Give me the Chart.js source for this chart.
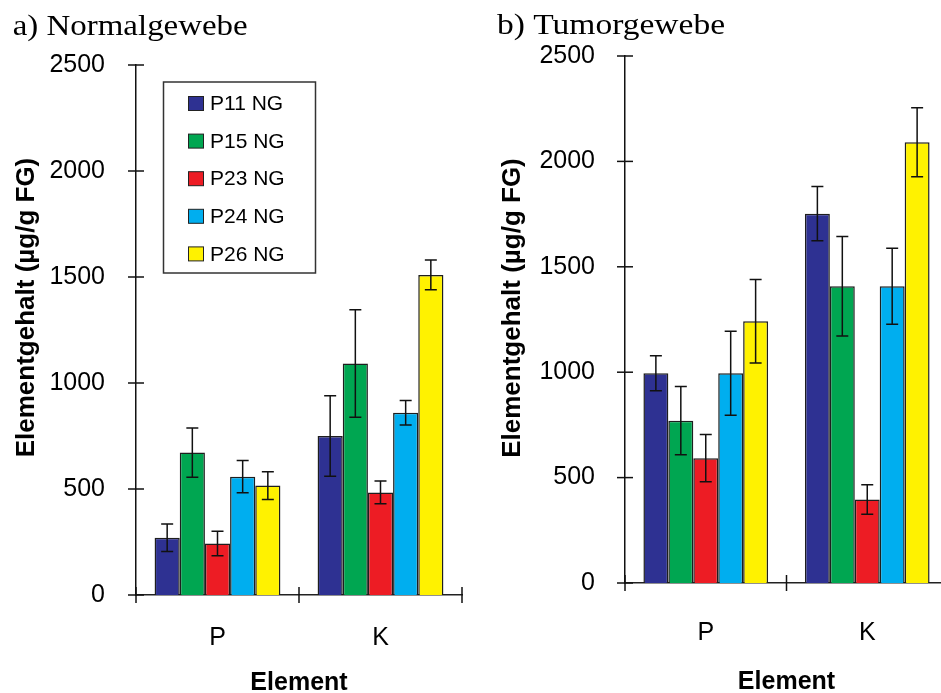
<!DOCTYPE html>
<html>
<head>
<meta charset="utf-8">
<script src="https://cdn.jsdelivr.net/npm/chart.js@4.4.1/dist/chart.umd.min.js"></script>
<style>
  html, body { margin: 0; padding: 0; background: #fff; width: 941px; height: 693px; overflow: hidden; }
  #wrapA { position: absolute; left: 0; top: 0; width: 470px; height: 693px; }
  #wrapB { position: absolute; left: 470px; top: 0; width: 490px; height: 693px; }
</style>
</head>
<body>
<div id="wrapA"><canvas id="chartA" width="470" height="693"></canvas></div>
<div id="wrapB"><canvas id="chartB" width="490" height="693"></canvas></div>
<script>
// ---- Data ----
const categories = ['P', 'K'];
const seriesNames = ['P11 NG', 'P15 NG', 'P23 NG', 'P24 NG', 'P26 NG'];
const seriesColors = ['#2E3192', '#00A651', '#ED1C24', '#00AEEF', '#FFF200'];
const yTicks = [0, 500, 1000, 1500, 2000, 2500];

// a) Normalgewebe (mean, error)
const normP11 = [270, 750];   const normP11Err = [65, 190];
const normP15 = [672, 1092];  const normP15Err = [116, 253];
const normP23 = [243, 484];   const normP23Err = [58, 54];
const normP24 = [558, 860];   const normP24Err = [76, 58];
const normP26 = [516, 1510];  const normP26Err = [65, 70];

// b) Tumorgewebe (mean, error)
const tumP11 = [995, 1752];   const tumP11Err = [83, 129];
const tumP15 = [770, 1408];   const tumP15Err = [162, 236];
const tumP23 = [592, 396];    const tumP23Err = [112, 70];
const tumP24 = [995, 1408];   const tumP24Err = [199, 180];
const tumP26 = [1242, 2091];  const tumP26Err = [198, 164];

const yTitle = 'Elementgehalt (\u00b5g/g FG)';
const xTitle = 'Element';

function makeDatasets(vals, errs) {
  return vals.map((v, i) => ({
    label: seriesNames[i],
    data: v,
    errors: errs[i],
    backgroundColor: seriesColors[i],
    borderColor: '#1e1e1e',
    borderWidth: 1.5,
    categoryPercentage: 0.772,
    barPercentage: 1.0
  }));
}

const SANS = '"Liberation Sans", Arial, sans-serif';
const SERIF = '"Liberation Serif", "Times New Roman", serif';

function decoPlugin(cfg) {
  return {
    id: 'deco',
    afterDatasetsDraw(chart) {
      const ctx = chart.ctx, ys = chart.scales.y;
      ctx.save();
      ctx.strokeStyle = '#111';
      ctx.lineWidth = 1.5;
      chart.data.datasets.forEach((ds, i) => {
        const meta = chart.getDatasetMeta(i);
        meta.data.forEach((bar, j) => {
          const v = ds.data[j], e = ds.errors[j];
          const yt = ys.getPixelForValue(v + e), yb = ys.getPixelForValue(v - e);
          const x = bar.x;
          ctx.beginPath();
          ctx.moveTo(x, yt); ctx.lineTo(x, yb);
          ctx.moveTo(x - 6, yt); ctx.lineTo(x + 6, yt);
          ctx.moveTo(x - 6, yb); ctx.lineTo(x + 6, yb);
          ctx.stroke();
        });
      });
      ctx.restore();
    },
    afterDraw(chart) {
      const ctx = chart.ctx, ys = chart.scales.y, xs = chart.scales.x;
      const ca = chart.chartArea;
      ctx.save();
      ctx.strokeStyle = '#111';
      ctx.lineWidth = 1.5;
      // crossing y ticks
      ys.ticks.forEach(t => {
        const py = ys.getPixelForValue(t.value);
        ctx.beginPath(); ctx.moveTo(ca.left - 8, py); ctx.lineTo(ca.left + 8, py); ctx.stroke();
      });
      // crossing x ticks at category boundaries
      for (let i = 0; i <= categories.length; i++) {
        const px = xs.getPixelForValue(i - 0.5);
        ctx.beginPath(); ctx.moveTo(px, ca.bottom - 8); ctx.lineTo(px, ca.bottom + 8); ctx.stroke();
      }
      // y-axis title
      ctx.fillStyle = '#000';
      ctx.font = 'bold 26px ' + SANS;
      ctx.textAlign = 'center';
      ctx.textBaseline = 'alphabetic';
      ctx.save();
      ctx.translate(cfg.yTitleX, cfg.yTitleY);
      ctx.rotate(-Math.PI / 2);
      ctx.fillText(yTitle, 0, 0);
      ctx.restore();
      // x-axis title
      ctx.font = 'bold 25px ' + SANS;
      ctx.fillText(xTitle, (ca.left + ca.right) / 2, cfg.xTitleY);
      // panel title (serif)
      ctx.font = '30px ' + SERIF;
      ctx.textAlign = 'left';
      const w = ctx.measureText(cfg.panelTitle).width;
      ctx.save();
      ctx.translate(cfg.panelX, cfg.panelY);
      ctx.scale(cfg.panelW / w, 1);
      ctx.fillText(cfg.panelTitle, 0, 0);
      ctx.restore();
      // legend
      if (cfg.legend) {
        ctx.fillStyle = '#fff';
        ctx.fillRect(163.5, 82, 152, 191);
        ctx.strokeStyle = '#333';
        ctx.lineWidth = 1.5;
        ctx.strokeRect(163.5, 82, 152, 191);
        ctx.font = '21px ' + SANS;
        ctx.textBaseline = 'middle';
        chart.data.datasets.forEach((ds, i) => {
          const cy = 103.5 + i * 37.6;
          ctx.fillStyle = ds.backgroundColor;
          ctx.fillRect(188.5, cy - 7, 15, 14);
          ctx.strokeStyle = '#222';
          ctx.lineWidth = 1;
          ctx.strokeRect(188.5, cy - 7, 15, 14);
          ctx.fillStyle = '#000';
          ctx.fillText(ds.label, 210, cy + 1);
        });
      }
      ctx.restore();
    }
  };
}

function makeChart(id, datasets, opt) {
  return new Chart(document.getElementById(id), {
    type: 'bar',
    data: { labels: categories, datasets },
    options: {
      responsive: false,
      devicePixelRatio: 1,
      animation: false,
      layout: { padding: { top: opt.top, right: opt.right, left: 0, bottom: 0 } },
      plugins: { legend: { display: false }, tooltip: { enabled: false } },
      scales: {
        x: {
          grid: { display: false },
          border: { display: true, color: '#222', width: 1.5 },
          ticks: { color: '#000', font: { family: SANS, size: 25 }, padding: opt.xPad },
          afterFit: s => { s.height = opt.xHeight; }
        },
        y: {
          min: 0, max: 2500,
          afterBuildTicks: s => { s.ticks = yTicks.map(v => ({ value: v })); },
          grid: { display: false },
          border: { display: true, color: '#111', width: 1.5 },
          ticks: { color: '#000', font: { family: SANS, size: 25 }, padding: opt.yPad,
                   callback: v => String(v) },
          afterFit: s => { s.width = opt.yWidth; }
        }
      }
    },
    plugins: [decoPlugin(opt.deco)]
  });
}

makeChart('chartA',
  makeDatasets([normP11, normP15, normP23, normP24, normP26],
               [normP11Err, normP15Err, normP23Err, normP24Err, normP26Err]),
  { top: 65, right: 8, xHeight: 98, yWidth: 136, xPad: 20, yPad: 23,
    deco: { legend: true, yTitleX: 33.5, yTitleY: 307.5, xTitleY: 690,
            panelTitle: 'a) Normalgewebe', panelX: 12.7, panelY: 35, panelW: 235 } });

makeChart('chartB',
  makeDatasets([tumP11, tumP15, tumP23, tumP24, tumP26],
               [tumP11Err, tumP15Err, tumP23Err, tumP24Err, tumP26Err]),
  { top: 56, right: 12, xHeight: 110, yWidth: 155, xPad: 27, yPad: 22,
    deco: { legend: false, yTitleX: 50, yTitleY: 308, xTitleY: 689,
            panelTitle: 'b) Tumorgewebe', panelX: 27, panelY: 33.5, panelW: 228 } });
</script>
</body>
</html>
